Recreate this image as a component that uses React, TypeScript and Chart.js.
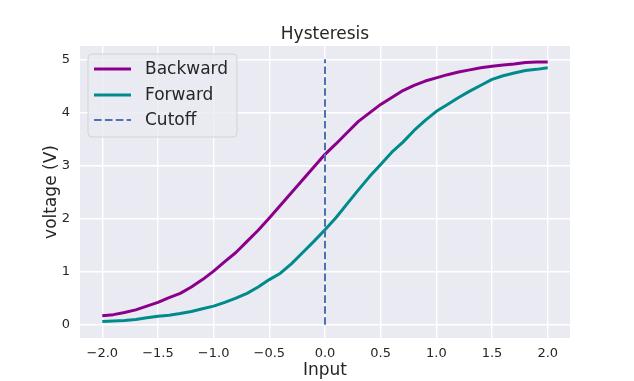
import React, { useEffect, useRef } from "react";
import { Chart, registerables } from "chart.js";

Chart.register(...registerables);

const inputValues = [
  -2.0, -1.9, -1.8, -1.7, -1.6, -1.5, -1.4, -1.3, -1.2, -1.1, -1.0,
  -0.9, -0.8, -0.7, -0.6, -0.5, -0.4, -0.3, -0.2, -0.1, 0.0,
  0.1, 0.2, 0.3, 0.4, 0.5, 0.6, 0.7, 0.8, 0.9, 1.0,
  1.1, 1.2, 1.3, 1.4, 1.5, 1.6, 1.7, 1.8, 1.9, 2.0,
];

const backwardValues = [
  0.17, 0.19, 0.23, 0.28, 0.35, 0.42, 0.51, 0.59, 0.71, 0.85, 1.01,
  1.19, 1.36, 1.57, 1.78, 2.01, 2.25, 2.49, 2.73, 2.97, 3.21,
  3.41, 3.62, 3.83, 3.99, 4.15, 4.28, 4.41, 4.51, 4.59, 4.65,
  4.71, 4.76, 4.80, 4.84, 4.87, 4.89, 4.91, 4.94, 4.95, 4.95,
];

const forwardValues = [
  0.06, 0.07, 0.08, 0.10, 0.13, 0.16, 0.18, 0.21, 0.25, 0.30, 0.35,
  0.42, 0.50, 0.59, 0.71, 0.85, 0.97, 1.15, 1.36, 1.57, 1.79,
  2.02, 2.28, 2.54, 2.79, 3.02, 3.25, 3.44, 3.66, 3.85, 4.02,
  4.15, 4.28, 4.40, 4.51, 4.62, 4.69, 4.74, 4.79, 4.81, 4.84,
];

const cutoffX = [0, 0];
const cutoffY = [0, 5];

const seriesLabels = ["Backward", "Forward", "Cutoff"];
const titleText = "Hysteresis";
const xLabel = "Input";
const yLabel = "voltage (V)";

const TEXT = "#262626";
const FONT = "'DejaVu Sans', sans-serif";
const PURPLE = "#8B008B";
const TEAL = "#008B8B";
const BLUE = "#4C72B0";
const DASH = [7.6, 3.3];

const decorPlugin = {
  id: "decor",
  beforeDraw(chart: any) {
    const { ctx, chartArea } = chart;
    ctx.save();
    ctx.fillStyle = "#ffffff";
    ctx.fillRect(0, 0, chart.width, chart.height);
    ctx.fillStyle = "#EAEAF2";
    ctx.fillRect(chartArea.left, chartArea.top, chartArea.right - chartArea.left, chartArea.bottom - chartArea.top);
    ctx.restore();
  },
  afterDraw(chart: any) {
    const { ctx, chartArea } = chart;
    ctx.save();
    ctx.fillStyle = TEXT;
    ctx.font = `17px ${FONT}`;
    ctx.textAlign = "center";
    ctx.textBaseline = "middle";
    ctx.fillText(titleText, (chartArea.left + chartArea.right) / 2, 35);
    ctx.fillText(xLabel, (chartArea.left + chartArea.right) / 2, 371);
    ctx.save();
    ctx.translate(52, (chartArea.top + chartArea.bottom) / 2);
    ctx.rotate(-Math.PI / 2);
    ctx.fillText(yLabel, 0, 0);
    ctx.restore();

    const bx = 88, by = 54, bw = 149, bh = 83, r = 4;
    ctx.beginPath();
    ctx.moveTo(bx + r, by);
    ctx.lineTo(bx + bw - r, by);
    ctx.arcTo(bx + bw, by, bx + bw, by + r, r);
    ctx.lineTo(bx + bw, by + bh - r);
    ctx.arcTo(bx + bw, by + bh, bx + bw - r, by + bh, r);
    ctx.lineTo(bx + r, by + bh);
    ctx.arcTo(bx, by + bh, bx, by + bh - r, r);
    ctx.lineTo(bx, by + r);
    ctx.arcTo(bx, by, bx + r, by, r);
    ctx.closePath();
    ctx.fillStyle = "rgba(234,234,242,0.8)";
    ctx.fill();
    ctx.strokeStyle = "rgba(204,204,204,0.8)";
    ctx.lineWidth = 1;
    ctx.stroke();

    const ds = chart.data.datasets;
    const rows = [69, 95, 120];
    ds.forEach((d: any, i: number) => {
      const y = rows[i];
      ctx.beginPath();
      ctx.strokeStyle = d.borderColor;
      ctx.lineWidth = d.borderWidth;
      ctx.setLineDash(d.borderDash || []);
      ctx.moveTo(94, y);
      ctx.lineTo(131, y);
      ctx.stroke();
      ctx.setLineDash([]);
      ctx.fillStyle = TEXT;
      ctx.font = `17px ${FONT}`;
      ctx.textAlign = "left";
      ctx.textBaseline = "middle";
      ctx.fillText(d.label, 145, y + 1);
    });
    ctx.restore();
  },
};

function fmtX(v: number) {
  const s = Math.abs(v).toFixed(1);
  return v < -1e-9 ? "\u2212" + s : s;
}

export default function App() {
  const canvasRef = useRef<HTMLCanvasElement>(null);

  useEffect(() => {
    document.body.style.margin = "0";
    const canvas = canvasRef.current!;
    const chart = new Chart(canvas, {
      type: "scatter",
      data: {
        datasets: [
          {
            label: seriesLabels[0],
            data: inputValues.map((x, i) => ({ x, y: backwardValues[i] })),
            showLine: true,
            borderColor: PURPLE,
            backgroundColor: PURPLE,
            borderWidth: 3,
            pointRadius: 0,
            tension: 0,
            borderJoinStyle: "round",
            order: 3,
          },
          {
            label: seriesLabels[1],
            data: inputValues.map((x, i) => ({ x, y: forwardValues[i] })),
            showLine: true,
            borderColor: TEAL,
            backgroundColor: TEAL,
            borderWidth: 3,
            pointRadius: 0,
            tension: 0,
            borderJoinStyle: "round",
            order: 2,
          },
          {
            label: seriesLabels[2],
            data: cutoffX.map((x, i) => ({ x, y: cutoffY[i] })),
            showLine: true,
            borderColor: BLUE,
            backgroundColor: BLUE,
            borderWidth: 2,
            borderDash: DASH,
            pointRadius: 0,
            order: 1,
          },
        ],
      },
      options: {
        animation: false,
        responsive: false,
        devicePixelRatio: 1,
        layout: { padding: { left: 0, right: 64, top: 46, bottom: 0 } },
        plugins: {
          legend: { display: false },
          title: { display: false },
          tooltip: { enabled: false },
        },
        scales: {
          x: {
            type: "linear",
            min: -2.2,
            max: 2.2,
            border: { display: false },
            grid: { color: "#ffffff", lineWidth: 1.4, drawTicks: false },
            ticks: {
              stepSize: 0.5,
              includeBounds: false,
              padding: 8,
              color: TEXT,
              font: { family: FONT, size: 13 },
              maxRotation: 0,
              autoSkip: false,
              callback: (v: any) => fmtX(Number(v)),
            },
            afterFit: (s: any) => {
              s.height = 43;
            },
          },
          y: {
            type: "linear",
            min: -0.25,
            max: 5.25,
            border: { display: false },
            grid: { color: "#ffffff", lineWidth: 1.4, drawTicks: false },
            ticks: {
              stepSize: 1,
              includeBounds: false,
              padding: 10,
              color: TEXT,
              font: { family: FONT, size: 13 },
              callback: (v: any) => String(Math.round(Number(v))),
            },
            afterFit: (s: any) => {
              s.width = 80;
            },
          },
        },
      },
      plugins: [decorPlugin],
    } as any);
    return () => chart.destroy();
  }, []);

  return (
    <div style={{ width: 634, height: 381 }}>
      <canvas ref={canvasRef} width={634} height={381} style={{ display: "block" }} />
    </div>
  );
}
